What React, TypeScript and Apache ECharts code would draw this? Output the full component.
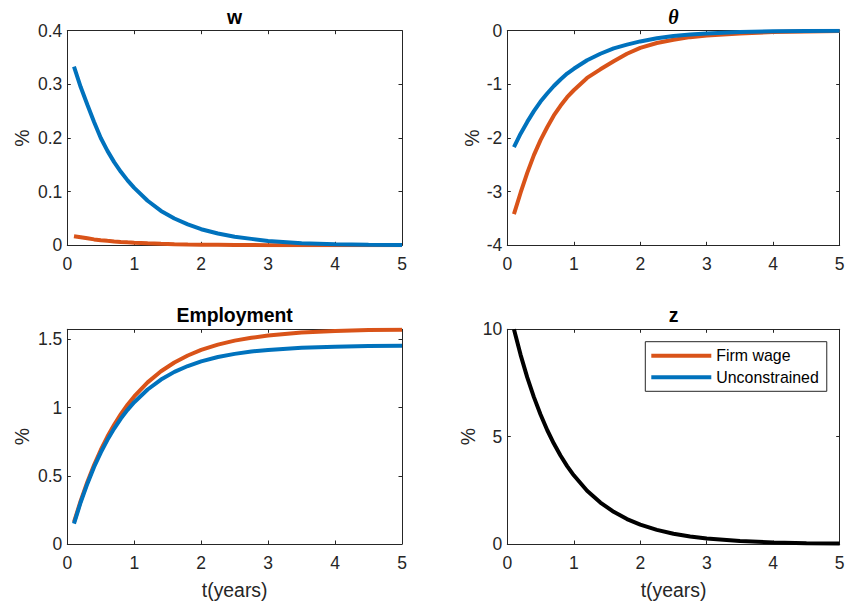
import React, { useEffect, useRef } from "react";
import * as echarts from "echarts";

// time grid (years)
const T = [0.1, 0.2, 0.3, 0.4, 0.5, 0.6, 0.7, 0.8, 0.9, 1.0, 1.2, 1.4, 1.6, 1.8, 2.0, 2.25, 2.5, 2.75, 3.0, 3.5, 4.0, 4.5, 5.0];

// w
const wFirm = [0.017, 0.015, 0.013, 0.011, 0.0095, 0.0083, 0.0072, 0.0063, 0.0055, 0.0048, 0.0036, 0.0028, 0.0021, 0.0016, 0.0012, 0.0009, 0.0006, 0.0005, 0.0003, 0.0002, 0.0001, 0.0001, 0.0];
const wUnc = [0.333, 0.295, 0.262, 0.23, 0.2, 0.176, 0.155, 0.137, 0.121, 0.107, 0.083, 0.064, 0.05, 0.039, 0.03, 0.022, 0.016, 0.012, 0.008, 0.004, 0.002, 0.001, 0.0005];

// theta
const thetaFirm = [-3.42, -3.02, -2.65, -2.32, -2.04, -1.8, -1.58, -1.4, -1.24, -1.11, -0.88, -0.72, -0.57, -0.43, -0.32, -0.23, -0.17, -0.12, -0.09, -0.05, -0.025, -0.013, -0.007];
const thetaUnc = [-2.17, -1.92, -1.7, -1.5, -1.32, -1.17, -1.03, -0.91, -0.8, -0.71, -0.55, -0.43, -0.33, -0.26, -0.2, -0.14, -0.1, -0.07, -0.05, -0.025, -0.012, -0.006, -0.003];

// Employment
const empFirm = [0.16, 0.316, 0.455, 0.579, 0.689, 0.787, 0.874, 0.951, 1.02, 1.081, 1.184, 1.266, 1.33, 1.381, 1.422, 1.461, 1.49, 1.511, 1.527, 1.549, 1.56, 1.567, 1.57];
const empUnc = [0.15, 0.306, 0.442, 0.564, 0.67, 0.763, 0.846, 0.919, 0.983, 1.039, 1.132, 1.205, 1.261, 1.304, 1.338, 1.37, 1.393, 1.41, 1.422, 1.438, 1.446, 1.45, 1.452];

// z
const zPath = [10.0, 8.81, 7.76, 6.84, 6.03, 5.31, 4.68, 4.12, 3.63, 3.2, 2.48, 1.93, 1.5, 1.16, 0.9, 0.66, 0.48, 0.35, 0.255, 0.135, 0.072, 0.038, 0.02];

// axis ranges [min, max, interval]
const xRange = [0, 5, 1];
const wRange = [0, 0.4, 0.1];
const thetaRange = [-4, 0, 1];
const empRange = [0, 1.573, 0.5];
const zRange = [0, 10, 5];

const titles = ["w", "θ", "Employment", "z"];
const seriesNames = ["Firm wage", "Unconstrained"];
const xName = "t(years)";
const yName = "%";

const ORANGE = "#D95319";
const BLUE = "#0072BD";
const AX = "#262626";
const FONT = '"Liberation Sans", Arial, Helvetica, sans-serif';

const panels = [
  { left: 67.3, top: 30.7, width: 334.7, height: 214.6, range: wRange, nameGap: 36, bottom: false, titleFont: `bold 19.4px ${FONT}` },
  { left: 507.3, top: 30.7, width: 332.4, height: 214.6, range: thetaRange, nameGap: 26, bottom: false, titleFont: 'italic bold 20px "Liberation Serif", "DejaVu Serif", serif' },
  { left: 67.3, top: 329.3, width: 334.7, height: 214.7, range: empRange, nameGap: 36, bottom: true, titleFont: `bold 19.4px ${FONT}` },
  { left: 507.3, top: 329.3, width: 332.4, height: 214.7, range: zRange, nameGap: 30, bottom: true, titleFont: `bold 19.4px ${FONT}` },
];

const pairs = (ys: number[]) => T.map((t, i) => [t, ys[i]]);

export default function App() {
  const ref = useRef<HTMLDivElement>(null);

  useEffect(() => {
    if (!ref.current) return;
    const chart = echarts.init(ref.current, undefined, { renderer: "svg" });

    const grids: any[] = [];
    const xAxes: any[] = [];
    const yAxes: any[] = [];
    const graphics: any[] = [];

    panels.forEach((p, i) => {
      grids.push({ left: p.left, top: p.top, width: p.width, height: p.height, containLabel: false, show: true, backgroundColor: "#fff", borderWidth: 0 });
      const common = {
        type: "value",
        gridIndex: i,
        axisLine: { show: true, onZero: false, lineStyle: { color: AX, width: 1 } },
        axisTick: { show: true, inside: true, length: 3.5, lineStyle: { color: AX, width: 1 } },
        splitLine: { show: false },
      };
      xAxes.push({
        ...common,
        position: "bottom",
        min: xRange[0],
        max: xRange[1],
        interval: xRange[2],
        axisLabel: { show: true, margin: 10, fontSize: 17.5, color: AX, fontFamily: FONT },
        name: p.bottom ? xName : "",
        nameLocation: "middle",
        nameGap: 36,
        nameTextStyle: { fontSize: 19.4, color: AX, fontFamily: FONT },
      });
      xAxes.push({
        ...common,
        position: "top",
        min: xRange[0],
        max: xRange[1],
        interval: xRange[2],
        axisLabel: { show: false },
      });
      const [mn, mx, iv] = p.range;
      const niceMax = Math.abs(mx / iv - Math.round(mx / iv)) < 1e-9;
      yAxes.push({
        ...common,
        position: "left",
        min: mn,
        max: mx,
        interval: iv,
        axisLabel: { show: true, margin: 5, fontSize: 17.5, color: AX, fontFamily: FONT, showMaxLabel: niceMax },
        name: yName,
        nameLocation: "middle",
        nameRotate: 90,
        nameGap: p.nameGap,
        nameTextStyle: { fontSize: 19.4, color: AX, fontFamily: FONT },
      });
      yAxes.push({
        ...common,
        position: "right",
        min: mn,
        max: mx,
        interval: iv,
        axisLabel: { show: false },
      });
      graphics.push({
        type: "text",
        x: p.left + p.width / 2,
        y: p.top - 14.2,
        style: {
          text: titles[i],
          font: p.titleFont,
          fill: "#000",
          align: "center",
          verticalAlign: "middle",
          textAlign: "center",
          textVerticalAlign: "middle",
        },
      });
    });

    const lineSeries = (name: string, ys: number[], color: string, idx: number) => ({
      type: "line",
      name,
      data: pairs(ys),
      xAxisIndex: idx * 2,
      yAxisIndex: idx * 2,
      symbol: "none",
      showSymbol: false,
      color,
      itemStyle: { color },
      lineStyle: { color, width: 4 },
      clip: true,
      z: 2,
    });

    const option: any = {
      animation: false,
      backgroundColor: "#fff",
      grid: grids,
      xAxis: xAxes,
      yAxis: yAxes,
      graphic: graphics,
      legend: {
        show: true,
        data: seriesNames,
        orient: "vertical",
        left: 645.3,
        top: 341.7,
        icon: "rect",
        itemWidth: 60,
        itemHeight: 4,
        itemGap: 5.6,
        padding: [6, 8, 6, 6],
        backgroundColor: "#fff",
        borderColor: AX,
        borderWidth: 1,
        borderRadius: 0,
        selectedMode: false,
        textStyle: { fontSize: 15.9, color: "#000", fontFamily: FONT, padding: [0, 0, 0, 0] },
      },
      series: [
        lineSeries(seriesNames[0], wFirm, ORANGE, 0),
        lineSeries(seriesNames[1], wUnc, BLUE, 0),
        lineSeries(seriesNames[0], thetaFirm, ORANGE, 1),
        lineSeries(seriesNames[1], thetaUnc, BLUE, 1),
        lineSeries(seriesNames[0], empFirm, ORANGE, 2),
        lineSeries(seriesNames[1], empUnc, BLUE, 2),
        lineSeries("z", zPath, "#000000", 3),
      ],
    };

    chart.setOption(option);
    return () => chart.dispose();
  }, []);

  return (
    <div
      ref={ref}
      style={{ position: "fixed", left: 0, top: 0, width: 849, height: 605, background: "#fff" }}
    />
  );
}
